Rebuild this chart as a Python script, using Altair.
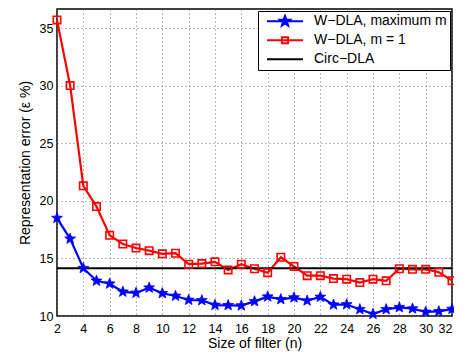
import math
import altair as alt
import pandas as pd

# ---- data ----
filter_sizes = list(range(2, 33))
wdla_max_m = [18.5, 16.7, 14.15, 13.05, 12.8, 12.1, 12.0, 12.45, 11.97, 11.74,
              11.39, 11.36, 10.95, 10.93, 10.9, 11.27, 11.68, 11.45, 11.6, 11.33,
              11.65, 10.98, 11.0, 10.58, 10.17, 10.58, 10.75, 10.64, 10.35, 10.4,
              10.6]
wdla_m1 = [35.7, 30.0, 21.3, 19.5, 17.0, 16.25, 15.9, 15.67, 15.4, 15.45,
           14.5, 14.55, 14.7, 14.0, 14.5, 14.1, 13.76, 15.1, 14.3, 13.5,
           13.5, 13.25, 13.2, 12.9, 13.2, 13.05, 14.1, 14.05, 14.05, 13.8,
           13.07]
circ_dla = [14.15]
series_names = ["W\u2212DLA, maximum m", "W\u2212DLA, m = 1", "Circ\u2212DLA"]
series_colors = ["#0000ff", "#ff0000", "#000000"]
x_ticks = list(range(2, 33, 2))
y_ticks = [10, 15, 20, 25, 30, 35]

# ---- tables ----
circ_df = pd.DataFrame({"value": circ_dla})
max_df = pd.DataFrame({"n": filter_sizes, "value": wdla_max_m})
m1_df = pd.DataFrame({"n": filter_sizes, "value": wdla_m1})
# legend-only layer: points placed outside the plotted domain and clipped away
legend_df = pd.DataFrame({"n": [-50, -50, -50], "value": [-50, -50, -50], "series": series_names})

FONT = "Liberation Sans"

def star_path(R, r):
    pts = []
    for k in range(10):
        ang = math.radians(-90 + k * 36)
        rad = R if k % 2 == 0 else r
        pts.append((rad * math.cos(ang), rad * math.sin(ang)))
    return "M" + "L".join(f"{x:.3f},{y:.3f}" for x, y in pts) + "Z"

STAR = star_path(1.0, 0.42)
line_p = "M-1,0L1,0"
sq = 0.17
square_p = f"M{-sq},{-sq}L{sq},{-sq}L{sq},{sq}L{-sq},{sq}Z"
legend_star = "".join(star_path(R, R * 0.42) for R in (0.3, 0.22, 0.14, 0.07))
shape_paths = [line_p + legend_star, line_p + square_p, line_p]

x_scale = alt.Scale(domain=[2, 32], nice=False, zero=False)
y_scale = alt.Scale(domain=[10, 36.65], nice=False, zero=False)

axis_common = dict(
    grid=True, gridDash=[1, 3], gridColor="#707070", gridWidth=1,
    tickSize=0, domain=False,
    labelFont=FONT, labelFontSize=12.5, labelColor="black",
    titleFont=FONT, titleFontSize=14, titleFontWeight="normal", titleColor="black",
    labelFlush=False, labelOverlap=False,
)
x_enc = alt.X("n:Q", scale=x_scale,
              axis=alt.Axis(values=x_ticks, title="Size of filter (n)",
                            labelPadding=6, titlePadding=2,
                            labelAlign={"condition": {"test": "datum.value >= 32", "value": "right"},
                                        "value": "center"},
                            **axis_common))
y_enc = alt.Y("value:Q", scale=y_scale,
              axis=alt.Axis(values=y_ticks, title="Representation error (\u03b5 %)",
                            labelPadding=4, titlePadding=7, **axis_common))

line_max = alt.Chart(max_df).mark_line(strokeWidth=2.2, color="#0000ff").encode(x=x_enc, y=y_enc)
line_m1 = alt.Chart(m1_df).mark_line(strokeWidth=2.2, color="#ff0000").encode(x=x_enc, y=y_enc)
circ = alt.Chart(circ_df).mark_rule(color="black", strokeWidth=2).encode(y=y_enc)

stars = alt.Chart(max_df).mark_point(
    shape=STAR, filled=True, size=130, color="#0000ff", opacity=1,
    stroke="#0000ff", strokeWidth=0.8).encode(x=x_enc, y=y_enc)

squares = alt.Chart(m1_df).mark_point(
    shape="square", filled=False, size=55, color="#ff0000", opacity=1,
    strokeWidth=1.6).encode(x=x_enc, y=y_enc)

leg = alt.Legend(
    title=None, orient="none", legendX=201, legendY=2,
    strokeColor="black", fillColor="white", padding=3,
    rowPadding=4, clipHeight=14.5, symbolSize=1296, symbolStrokeWidth=2,
    symbolOffset=5, labelOffset=10, labelFont=FONT, labelFontSize=14, labelColor="black",
)
legend_layer = alt.Chart(legend_df).mark_point(filled=False, opacity=1, clip=True).encode(
    x=x_enc, y=y_enc,
    color=alt.Color("series:N", scale=alt.Scale(domain=series_names, range=series_colors), legend=leg),
    shape=alt.Shape("series:N", scale=alt.Scale(domain=series_names, range=shape_paths), legend=leg),
)

chart = alt.layer(line_max, line_m1, circ, stars, squares, legend_layer).properties(
    width=395, height=307,
    autosize=alt.AutoSizeParams(type="none"),
    padding={"left": 49, "top": 1, "right": 2, "bottom": 40},
).configure_view(
    stroke="black", strokeWidth=1.5
).configure_legend(
    strokeColor="black", strokeWidth=1, fillColor="white",
)

chart.save("out.html", embed_options={"renderer": "svg", "actions": False})
